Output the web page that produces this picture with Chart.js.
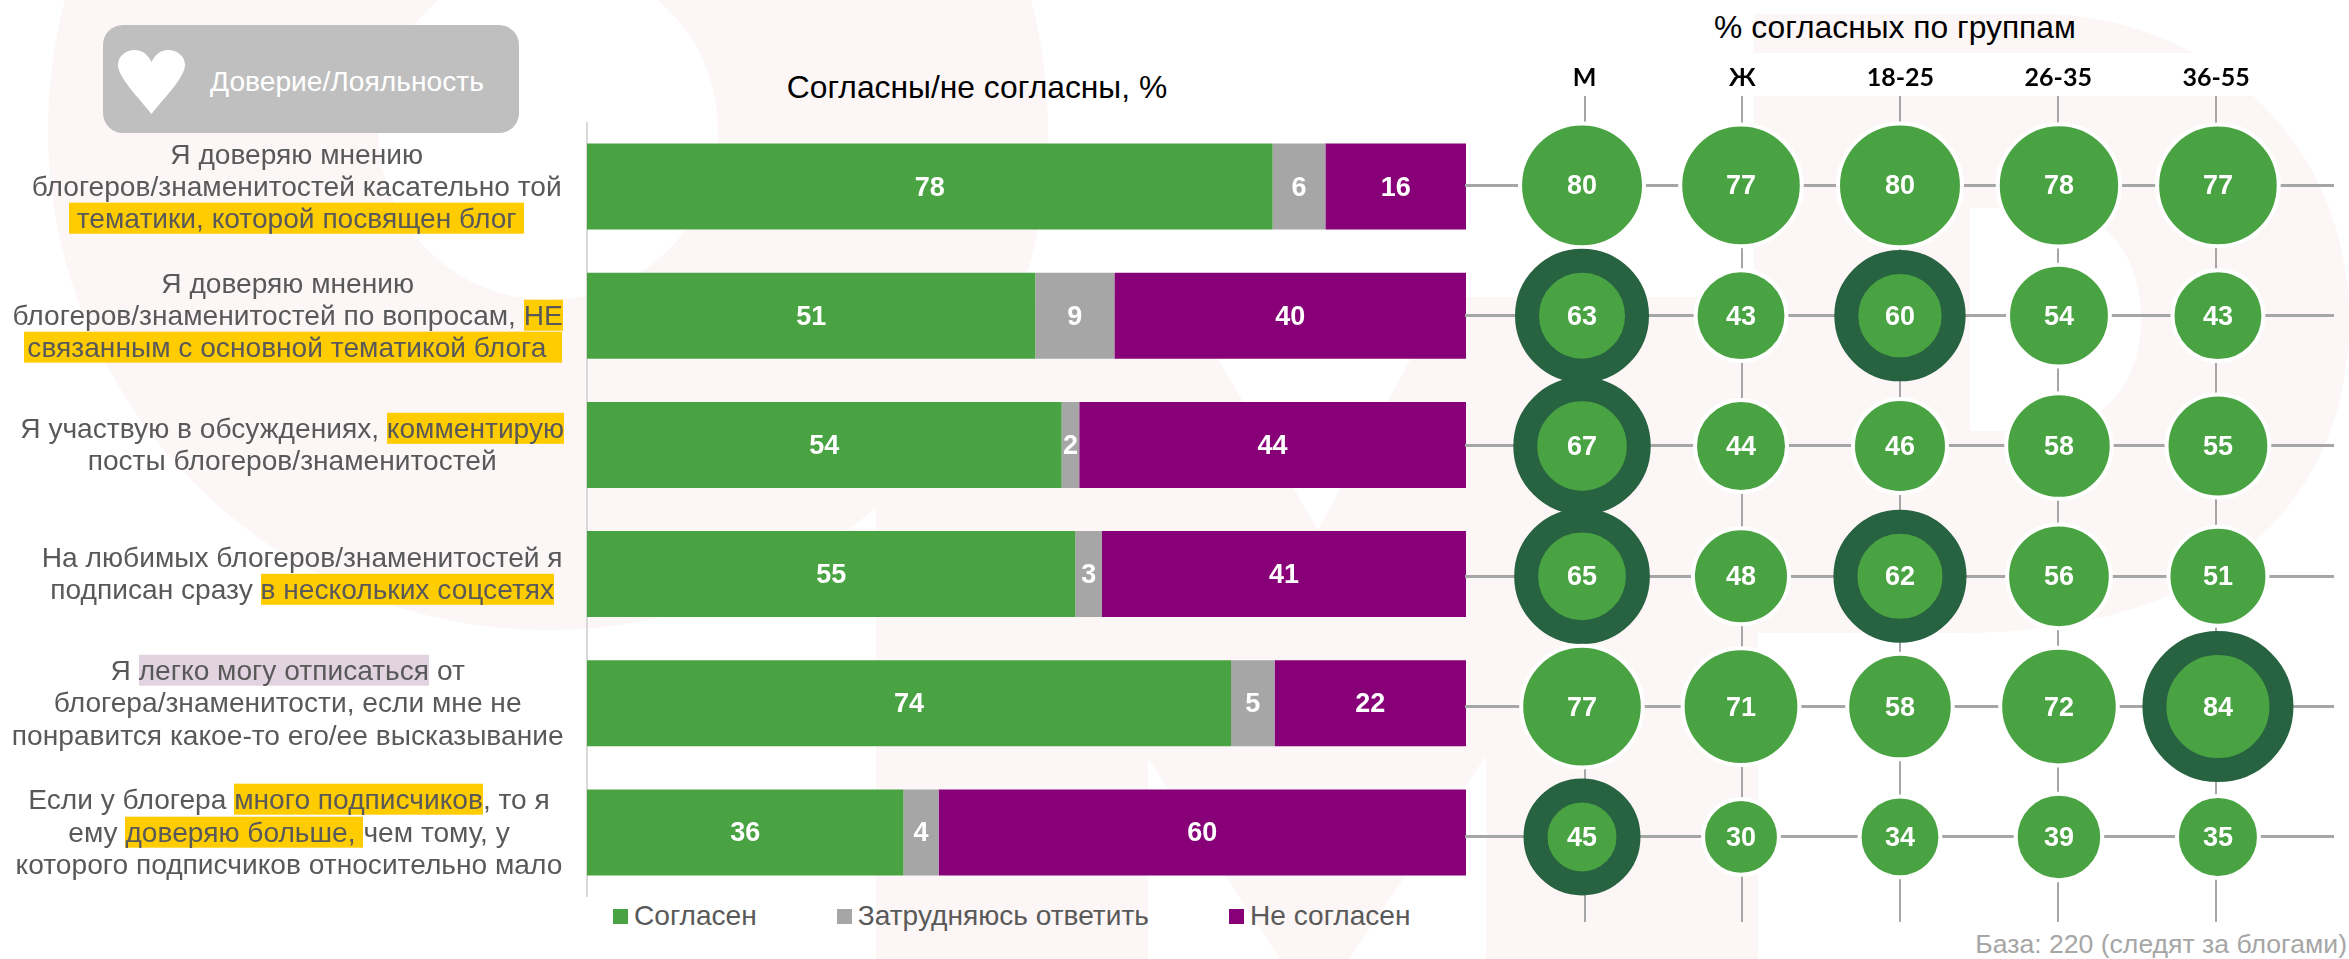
<!DOCTYPE html>
<html lang="ru">
<head>
<meta charset="utf-8">
<title>Доверие/Лояльность</title>
<script src="https://cdn.jsdelivr.net/npm/chart.js@4/dist/chart.umd.js"></script>
<style>
  html, body { margin: 0; padding: 0; background: #fff; }
  body { width: 2349px; height: 959px; position: relative; overflow: hidden; font-family: "Liberation Sans", Arial, sans-serif; }
  .abs { position: absolute; }
  canvas { position: absolute; display: block; }
  .title { position: absolute; color: #000; font-size: 31.8px; white-space: pre; transform: translate(-50%, -50%); }
  .badge { left: 103px; top: 25px; width: 416px; height: 108px; border-radius: 20px; background: #bfbfbf; }
  .badge span { position: absolute; left: 107px; top: 56px; transform: translateY(-50%); color: #fff; font-size: 28.2px; white-space: pre; }
  .badge svg { position: absolute; left: 15px; top: 25px; }
  .statement { position: absolute; width: 640px; text-align: center; color: #595959; font-size: 28.15px; line-height: 32.2px; white-space: pre; transform: translate(-50%, -50%); }
  mark { background: #ffcc00; color: inherit; }
  mark.soft { background: #e2d3e1; }
  mark.nudged { position: relative; left: 5.5px; padding-left: 3px; }
  #legend { position: absolute; left: 613px; top: 916px; transform: translateY(-50%); display: flex; gap: 80px; color: #595959; font-size: 28.1px; white-space: pre; }
  #legend div { display: flex; align-items: center; gap: 6px; }
  #legend i { display: block; width: 15px; height: 15px; }
  .base { position: absolute; right: 2px; top: 944px; transform: translateY(-50%); color: #a6a6a6; font-size: 26.6px; white-space: pre; }
</style>
</head>
<body>

<!-- pale logo behind everything -->
<svg class="abs" style="left:0;top:0" width="2349" height="959" viewBox="0 0 2349 959">
  <circle cx="548" cy="130" r="335" fill="none" stroke="#fdf6f6" stroke-width="330"/>
  <path fill="#fdf6f6" d="M876 297H1182L1318 530L1444 297H1758V959H1486V756L1349 959H1280L1148 758V959H876Z"/>
  <path fill="#fdf6f6" fill-rule="evenodd" d="M1754 14H2050C2210 20 2349 140 2349 320C2349 500 2220 633 1960 633H1754Z
    M1970 208H2040C2110 208 2141 260 2141 320C2141 385 2100 431 2040 431H1970Z"/>
  <rect x="1500" y="53" width="849" height="43" fill="#fff"/>
</svg>

<div class="abs badge">
  <svg width="67" height="64" viewBox="0 0 67 64"><path fill="#fff" d="M33.5 64C20 47 0 27 0 15C0 6 8 0 17 0C25 0 30 5 33.5 12C37 5 42 0 50 0C59 0 67 6 67 15C67 27 47 47 33.5 64Z"/></svg>
  <span>Доверие/Лояльность</span>
</div>

<div class="title" style="left:977px;top:87px">Согласны/не согласны, %</div>
<div class="title" style="left:1895px;top:27px">% согласных по группам</div>

<canvas id="bars" width="886" height="775" style="left:580px;top:122px"></canvas>
<canvas id="groups" width="869" height="872" style="left:1465px;top:50px"></canvas>

<div id="statements"></div>
<div id="legend"></div>
<div class="base">База: 220 (следят за блогами)</div>

<script>
const statements = [
  ['Я доверяю мнению', 'блогеров/знаменитостей касательно той', '<mark> тематики, которой посвящен блог </mark>'],
  ['Я доверяю мнению', 'блогеров/знаменитостей по вопросам, <mark>НЕ</mark>', '<mark class="nudged">связанным с основной тематикой блога  </mark>'],
  ['Я участвую в обсуждениях, <mark>комментирую</mark>', 'посты блогеров/знаменитостей'],
  ['На любимых блогеров/знаменитостей я', 'подписан сразу <mark>в нескольких соцсетях</mark>'],
  ['Я <mark class="soft">легко могу отписаться</mark> от', 'блогера/знаменитости, если мне не', 'понравится какое-то его/ее высказывание'],
  ['Если у блогера <mark>много подписчиков</mark>, то я', 'ему <mark>доверяю больше, </mark>чем тому, у', 'которого подписчиков относительно мало']
];
const statementCenters = [296.7, 287.7, 292.2, 302.2, 287.7, 289];

const agree = [78, 51, 54, 55, 74, 36];
const unsure = [6, 9, 2, 3, 5, 4];
const disagree = [16, 40, 44, 41, 22, 60];

const groupLabels = ['М', 'Ж', '18-25', '26-35', '36-55'];
const men = [80, 63, 67, 65, 77, 45];
const women = [77, 43, 44, 48, 71, 30];
const age18 = [80, 60, 46, 62, 58, 34];
const age26 = [78, 54, 58, 56, 72, 39];
const age36 = [77, 43, 55, 51, 84, 35];
const groupValues = [men, women, age18, age26, age36];

// [group, row] pairs that get the dark ring
const standouts = [[0, 1], [0, 2], [0, 3], [0, 5], [2, 1], [2, 3], [4, 4]];

const GREEN = '#4aa342', GREY = '#a6a6a6', PURPLE = '#880077', DARK = '#276241';

// rows do not always add up to exactly 100, bars are stretched to full width
const share = (arr) => arr.map((v, i) => v / (agree[i] + unsure[i] + disagree[i]) * 100);

// white numbers in the middle of bars and bubbles
const valueLabels = {
  id: 'valueLabels',
  afterDatasetsDraw(chart) {
    const ctx = chart.ctx;
    ctx.save();
    ctx.fillStyle = '#fff';
    ctx.font = 'bold 27px "Liberation Sans", Arial, sans-serif';
    ctx.textAlign = 'center';
    ctx.textBaseline = 'middle';
    chart.data.datasets.forEach((ds, d) => {
      chart.getDatasetMeta(d).data.forEach((el, i) => {
        const p = el.getCenterPoint ? el.getCenterPoint() : el;
        ctx.fillText(String(ds.values[i]), p.x, p.y + 1.5);
      });
    });
    ctx.restore();
  }
};

const barChart = new Chart(document.getElementById('bars'), {
  type: 'bar',
  data: {
    labels: statements.map((s) => s.join(' ').replace(/<[^>]+>/g, '')),
    datasets: [
      { label: 'Согласен', data: share(agree), values: agree, backgroundColor: GREEN },
      { label: 'Затрудняюсь ответить', data: share(unsure), values: unsure, backgroundColor: GREY },
      { label: 'Не согласен', data: share(disagree), values: disagree, backgroundColor: PURPLE }
    ]
  },
  options: {
    indexAxis: 'y',
    responsive: false,
    animation: false,
    events: [],
    categoryPercentage: 1,
    barPercentage: 0.666,
    layout: { padding: 0 },
    plugins: { legend: { display: false }, tooltip: { enabled: false } },
    scales: {
      x: { stacked: true, min: 0, max: 100, display: false },
      y: {
        stacked: true,
        ticks: { display: false },
        grid: { display: false, drawTicks: false },
        border: { color: '#d9d9d9', width: 2 },
        afterFit: (scale) => { scale.width = 7; }
      }
    }
  },
  plugins: [valueLabels]
});

const bubblePoints = [];
const bubbleValues = [];
groupValues.forEach((col, g) => col.forEach((v, row) => {
  bubblePoints.push({ x: g, y: row, r: Math.sqrt(v * 48) });
  bubbleValues.push(v);
}));
const isStandout = (c) => {
  const p = c.raw;
  return !!p && standouts.some(([g, row]) => g === p.x && row === p.y);
};

new Chart(document.getElementById('groups'), {
  type: 'bubble',
  data: {
    datasets: [{
      label: '% согласных',
      data: bubblePoints,
      values: bubbleValues,
      clip: false,
      backgroundColor: GREEN,
      borderColor: (c) => isStandout(c) ? DARK : '#fff',
      borderWidth: (c) => isStandout(c) ? 24 : 4
    }]
  },
  options: {
    responsive: false,
    animation: false,
    events: [],
    layout: { padding: 0, autoPadding: false },
    plugins: { legend: { display: false }, tooltip: { enabled: false } },
    scales: {
      // bubbles sit on a slightly wider pitch than the grid lines
      x: { type: 'linear', display: false, min: -0.736, max: 4.73 },
      xLines: {
        type: 'linear',
        position: 'top',
        min: -0.757,
        max: 4.746,
        afterBuildTicks: (scale) => { scale.ticks = groupLabels.map((_, i) => ({ value: i })); },
        afterFit: (scale) => { scale.height = 46; },
        ticks: {
          autoSkip: false,
          maxRotation: 0,
          padding: 3,
          color: '#000',
          font: { family: 'Lato', weight: 'bold', size: 25 },
          callback: (v) => groupLabels[v]
        },
        grid: { color: GREY, lineWidth: 2, drawTicks: false },
        border: { display: false }
      },
      y: {
        type: 'linear',
        reverse: true,
        min: -0.686,
        max: 5.653,
        afterBuildTicks: (scale) => { scale.ticks = men.map((_, i) => ({ value: i })); },
        afterFit: (scale) => { scale.width = 0; },
        ticks: { display: false },
        grid: { color: GREY, lineWidth: 3, drawTicks: false },
        border: { display: false }
      }
    }
  },
  plugins: [valueLabels]
});

// statement texts, one block per row, centred on its bar
const holder = document.getElementById('statements');
statements.forEach((lines, i) => {
  const el = document.createElement('div');
  el.className = 'statement';
  el.style.left = statementCenters[i] + 'px';
  el.style.top = (122 + barChart.scales.y.getPixelForValue(i)) + 'px';
  el.innerHTML = lines.join('\n');
  holder.appendChild(el);
});

// legend, same colours and names as the bar datasets
const legend = document.getElementById('legend');
barChart.data.datasets.forEach((ds) => {
  const item = document.createElement('div');
  const box = document.createElement('i');
  box.style.background = ds.backgroundColor;
  item.appendChild(box);
  item.appendChild(document.createTextNode(ds.label));
  legend.appendChild(item);
});
</script>
</body>
</html>
